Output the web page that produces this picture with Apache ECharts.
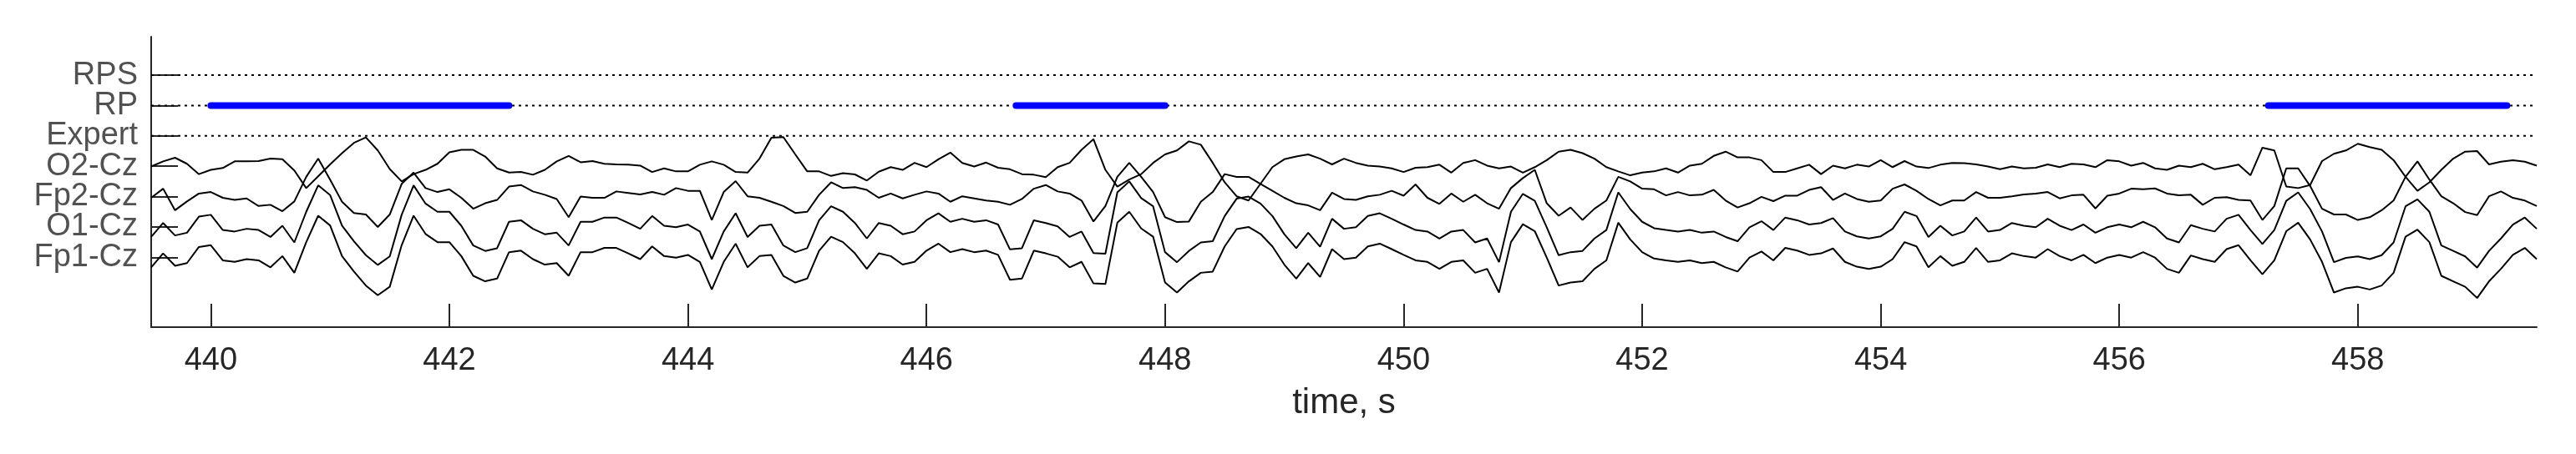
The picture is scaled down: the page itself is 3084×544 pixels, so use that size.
<!DOCTYPE html>
<html><head><meta charset="utf-8">
<script src="https://cdn.jsdelivr.net/npm/echarts@6/dist/echarts.min.js"></script>
<style>html,body{margin:0;padding:0;background:#fff}#c{width:3084px;height:544px}</style>
</head><body><div id="c"></div>
<script>
// y tick labels, bottom to top (row index + 1 = row position on the y axis)
const ROW_LABELS = ['Fp1-Cz', 'O1-Cz', 'Fp2-Cz', 'O2-Cz', 'Expert', 'RP', 'RPS'];
const X_TICKS = [440, 442, 444, 446, 448, 450, 452, 454, 456, 458];
const X_RANGE = [439.5, 459.5];
const TIME_START = 439.5, TIME_STEP = 0.1;   // sampling grid of the traces

// EEG traces: amplitude around each channel's row (row units)
const O2_CZ = [
-0.01,0.16,0.28,0.08,-0.26,-0.12,-0.06,0.16,0.16,0.17,0.25,0.23,-0.14,-0.72,-0.33,0.06,0.43,0.77,0.95,0.52,
-0.09,-0.50,-0.26,-0.12,0.08,0.46,0.54,0.54,0.32,-0.07,-0.21,-0.19,-0.28,-0.12,0.16,0.34,0.13,0.17,0.08,0.06,
0.05,0.02,-0.19,-0.07,-0.17,-0.17,0.05,0.16,0.05,-0.19,-0.21,0.25,0.94,0.96,0.39,-0.17,-0.17,-0.32,-0.23,-0.27,
-0.47,-0.18,-0.03,-0.12,0.11,-0.03,0.23,
0.45,0.11,-0.01,0.12,-0.05,-0.10,-0.26,-0.28,-0.36,-0.03,0.11,0.54,0.89,-0.12,-0.67,-0.44,-0.26,0.11,0.39,0.52,
0.82,0.71,0.11,-0.53,-0.99,-1.13,-0.58,-0.03,0.23,0.32,0.39,0.25,0.06,0.25,0.11,0.02,-0.01,-0.07,-0.19,-0.05,
-0.03,0.05,-0.21,0.11,0.20,0.02,-0.07,-0.01,-0.21,-0.03,0.20,0.48,0.54,0.43,0.25,-0.03,-0.17,-0.30,-0.21,-0.17,
-0.07,-0.21,0.02,0.08,0.34,0.48,0.29,
0.29,0.20,-0.19,-0.19,-0.07,0.05,-0.26,0.02,-0.07,0.05,-0.01,0.20,-0.03,0.17,-0.01,-0.06,0.05,0.11,0.10,0.06,
-0.01,-0.10,-0.01,-0.07,-0.05,0.06,-0.03,0.08,0.06,-0.03,0.20,0.16,0.02,0.11,-0.07,-0.12,0.02,-0.03,0.08,-0.10,
-0.03,0.05,-0.30,0.61,0.52,-0.67,-0.72,-0.62,0.17,0.41,0.52,0.74,0.63,0.54,0.20,-0.35,-0.81,-0.53,-0.12,0.25,
0.48,0.50,0.06,0.15,0.20,0.15,0.02
];
const FP2_CZ = [
-0.04,0.26,-0.45,-0.16,0.10,0.15,-0.04,-0.11,-0.06,-0.31,-0.27,-0.48,-0.16,0.65,1.25,0.56,-0.17,-0.54,-0.59,-1.00,
-0.59,0.42,0.79,0.28,0.15,0.24,-0.04,-0.40,-0.22,-0.11,0.33,0.38,0.17,0.06,-0.08,-0.68,0.00,-0.04,-0.04,0.17,
0.12,0.07,0.15,0.06,0.28,0.19,0.19,-0.77,0.15,0.51,0.01,-0.04,-0.17,-0.31,-0.54,-0.50,0.06,0.47,0.28,0.31,
0.22,-0.04,0.10,-0.06,0.06,0.17,0.10,
-0.17,0.01,-0.06,-0.13,-0.17,-0.27,-0.08,0.26,0.38,0.17,0.10,-0.13,-0.82,-0.31,0.65,1.11,0.65,0.15,-0.68,-0.84,
-0.82,-0.17,0.15,0.74,0.65,0.65,0.42,0.19,-0.04,-0.22,-0.29,-0.45,0.13,-0.08,-0.11,0.01,0.06,0.19,0.03,0.40,
-0.04,-0.24,0.10,-0.17,0.06,-0.22,-0.40,0.28,0.61,0.88,-0.22,-0.63,-0.36,-0.77,-0.40,-0.13,0.65,0.50,0.26,0.24,
0.04,0.15,0.04,0.06,0.22,-0.13,-0.36,
-0.22,-0.01,-0.15,0.03,0.03,0.22,0.31,-0.11,0.10,-0.08,-0.17,-0.13,0.26,0.40,0.19,-0.08,-0.29,-0.13,-0.13,0.15,
-0.04,-0.04,0.01,0.07,0.10,0.15,-0.06,0.04,0.06,-0.39,0.03,0.10,0.26,0.24,0.27,0.10,0.04,0.06,-0.27,-0.04,
-0.02,-0.11,-0.13,-0.77,-0.31,0.93,0.93,0.35,-0.40,-0.59,-0.59,-0.77,-0.68,-0.45,-0.13,0.65,1.16,0.56,0.01,-0.22,
-0.51,-0.61,0.01,0.17,-0.04,-0.13,-0.31
];
const O1_CZ = [
-0.33,0.13,-0.28,-0.19,0.34,0.40,-0.10,-0.15,-0.06,-0.10,-0.33,0.04,-0.51,0.50,1.37,1.05,0.04,-0.47,-0.93,-1.25,
-0.97,0.40,1.37,0.77,0.50,0.50,0.04,-0.61,-0.79,-0.70,0.17,0.22,-0.06,-0.24,-0.19,-0.61,0.17,0.17,0.31,0.31,
0.13,-0.06,0.36,0.04,-0.01,0.08,-0.15,-1.06,-0.15,0.45,-0.33,0.04,0.08,-0.61,-0.83,-0.70,0.22,0.68,0.50,0.13,
-0.38,0.13,0.04,-0.24,-0.15,0.22,0.45,
0.17,0.27,0.17,0.22,0.08,-0.74,-0.70,0.22,0.13,0.02,-0.33,-0.15,-0.86,-0.88,1.14,1.50,0.95,0.68,-0.83,-1.16,
-0.79,-0.51,-0.47,0.36,0.93,1.00,0.77,0.36,-0.24,-0.70,-0.19,-0.65,0.27,-0.06,-0.01,0.36,0.45,0.27,0.08,-0.10,
-0.15,-0.38,-0.15,-0.10,-0.51,-0.38,-1.16,0.50,1.09,0.86,-0.01,-0.93,-0.83,-0.79,-0.38,-0.10,1.14,0.59,0.17,-0.04,
-0.10,-0.15,-0.10,-0.19,-0.15,-0.33,-0.47,
-0.01,0.19,-0.10,0.31,0.22,0.08,0.13,0.29,-0.15,-0.31,-0.38,-0.31,-0.06,0.50,0.36,-0.33,0.04,-0.28,-0.15,0.31,
-0.15,-0.10,0.13,0.04,-0.01,0.27,0.04,-0.10,0.08,-0.19,-0.01,0.08,-0.01,0.17,-0.01,-0.38,-0.51,0.06,-0.06,-0.15,
0.27,0.40,-0.10,-0.56,-0.10,0.86,1.14,0.59,-0.15,-1.16,-1.02,-0.97,-1.06,-0.93,-0.51,0.68,0.91,0.50,-0.61,-0.79,
-0.97,-1.34,-0.79,-0.38,0.08,0.31,-0.06
];
const FP1_CZ = [
-0.33,0.13,-0.28,-0.19,0.34,0.40,-0.10,-0.15,-0.06,-0.10,-0.33,0.04,-0.51,0.50,1.37,1.05,0.04,-0.47,-0.93,-1.25,
-0.97,0.40,1.37,0.77,0.50,0.50,0.04,-0.61,-0.79,-0.70,0.17,0.22,-0.06,-0.24,-0.19,-0.61,0.17,0.17,0.31,0.31,
0.13,-0.06,0.36,0.04,-0.01,0.08,-0.15,-1.06,-0.15,0.45,-0.33,0.04,0.08,-0.61,-0.83,-0.70,0.22,0.68,0.50,0.13,
-0.38,0.13,0.04,-0.24,-0.15,0.22,0.45,
0.17,0.27,0.17,0.22,0.08,-0.74,-0.70,0.22,0.13,0.02,-0.33,-0.15,-0.86,-0.88,1.14,1.50,0.95,0.68,-0.83,-1.16,
-0.79,-0.51,-0.47,0.36,0.93,1.00,0.77,0.36,-0.24,-0.70,-0.19,-0.65,0.27,-0.06,-0.01,0.36,0.45,0.27,0.08,-0.10,
-0.15,-0.38,-0.15,-0.10,-0.51,-0.38,-1.16,0.50,1.09,0.86,-0.01,-0.93,-0.83,-0.79,-0.38,-0.10,1.14,0.59,0.17,-0.04,
-0.10,-0.15,-0.10,-0.19,-0.15,-0.33,-0.47,
-0.01,0.19,-0.10,0.31,0.22,0.08,0.13,0.29,-0.15,-0.31,-0.38,-0.31,-0.06,0.50,0.36,-0.33,0.04,-0.28,-0.15,0.31,
-0.15,-0.10,0.13,0.04,-0.01,0.27,0.04,-0.10,0.08,-0.19,-0.01,0.08,-0.01,0.17,-0.01,-0.38,-0.51,0.06,-0.06,-0.15,
0.27,0.40,-0.10,-0.56,-0.10,0.86,1.14,0.59,-0.15,-1.16,-1.02,-0.97,-1.06,-0.93,-0.51,0.68,0.91,0.50,-0.61,-0.79,
-0.97,-1.34,-0.79,-0.38,0.08,0.31,-0.06
];

// detected events (start, end in seconds)
const RP_EVENTS = [[440.0, 442.5], [446.75, 448.0], [457.25, 459.25]];
const RPS_EVENTS = [];
const EXPERT_EVENTS = [];

const TRACES = [['Fp1-Cz', FP1_CZ], ['O1-Cz', O1_CZ], ['Fp2-Cz', FP2_CZ], ['O2-Cz', O2_CZ]];
const EVENT_ROWS = [['Expert', EXPERT_EVENTS], ['RP', RP_EVENTS], ['RPS', RPS_EVENTS]];

const rowOf = name => ROW_LABELS.indexOf(name) + 1;
const ROW_VALUES = ROW_LABELS.map((_, i) => i + 1);
const AXIS_COLOR = '#262626';
const FONT = 'Liberation Sans';

const series = [];
EVENT_ROWS.forEach(([name, events]) => {
  const y = rowOf(name);
  series.push({
    type: 'line', name: name + ' baseline', silent: true, showSymbol: false,
    data: [[X_RANGE[0], y], [X_RANGE[1], y]],
    lineStyle: { color: '#000', width: 2, type: [3, 5] }, z: 2
  });
  events.forEach(([a, b]) => {
    series.push({
      type: 'line', name: name, silent: true, showSymbol: false,
      data: [[a, y], [b, y]],
      lineStyle: { color: '#0000ff', width: 8, cap: 'round' }, z: 4
    });
  });
});
TRACES.forEach(([name, vals]) => {
  const y0 = rowOf(name);
  series.push({
    type: 'line', name: name, silent: true, showSymbol: false,
    data: vals.map((v, i) => [TIME_START + i * TIME_STEP, y0 + v]),
    lineStyle: { color: '#000', width: 2 }, z: 3
  });
});
// y-axis row labels, placed at each row on the left edge of the axis
series.push({
  type: 'scatter', name: 'row labels', silent: true, clip: false, symbolSize: 0,
  data: ROW_VALUES.map(v => [X_RANGE[0], v]),
  label: { show: true, position: 'left', distance: 16, formatter: p => ROW_LABELS[p.dataIndex],
    fontSize: 38, color: AXIS_COLOR, fontFamily: FONT },
  z: 5
});

const chart = echarts.init(document.getElementById('c'), null, { renderer: 'canvas' });
chart.setOption({
  animation: false,
  backgroundColor: '#fff',
  grid: { left: 181, right: 47, top: 44, bottom: 152, containLabel: false },
  xAxis: {
    type: 'value', min: X_RANGE[0], max: X_RANGE[1],
    name: 'time, s', nameLocation: 'middle', nameGap: 70,
    nameTextStyle: { fontSize: 42, color: AXIS_COLOR, fontFamily: FONT },
    axisLine: { show: true, onZero: false, lineStyle: { color: AXIS_COLOR, width: 2 } },
    axisTick: { show: true, inside: true, length: 28, customValues: X_TICKS, lineStyle: { color: AXIS_COLOR, width: 2 } },
    axisLabel: { customValues: X_TICKS, fontSize: 38, color: AXIS_COLOR, fontFamily: FONT, margin: 22,
      showMinLabel: true, showMaxLabel: true, hideOverlap: false },
    splitLine: { show: false }
  },
  yAxis: {
    type: 'value', min: -1.3, max: 8.265,
    axisLine: { show: true, onZero: false, lineStyle: { color: AXIS_COLOR, width: 2 } },
    axisTick: { show: true, inside: true, length: 32, customValues: ROW_VALUES, lineStyle: { color: AXIS_COLOR, width: 2 } },
    axisLabel: { show: false },
    splitLine: { show: false }
  },
  series: series
});
</script></body></html>
